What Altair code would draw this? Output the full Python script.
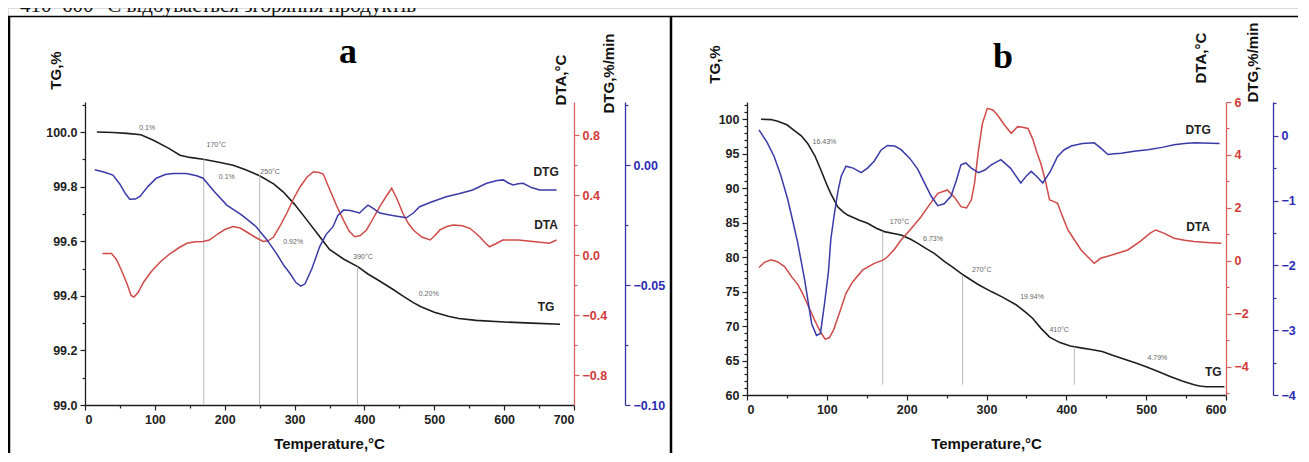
import altair as alt
import pandas as pd

# ---------------- text ----------------
doc_text = "410–600 °C відбувається згоряння продуктів"

# ---------------- panel a data ----------------
a_tg_T = [17, 40, 60, 80, 98, 120, 136, 150, 169, 190, 212, 230, 250, 270, 284, 300, 317, 335,
          350, 370, 391, 405, 420, 440, 457, 470, 481, 500, 520, 535, 560, 600, 640, 680]
a_tg = [100.0, 99.998, 99.995, 99.99, 99.97, 99.94, 99.915, 99.907, 99.90, 99.89, 99.878, 99.862,
        99.84, 99.81, 99.78, 99.735, 99.68, 99.62, 99.57, 99.535, 99.506, 99.48, 99.457, 99.425,
        99.396, 99.375, 99.36, 99.34, 99.325, 99.317, 99.31, 99.304, 99.30, 99.296]

a_dta_T = [25, 38, 45, 52, 60, 66, 70, 76, 84, 95, 108, 122, 135, 146, 158, 169, 178, 190, 200,
           212, 222, 231, 243, 255, 262, 270, 280, 289, 298, 308, 318, 327, 335, 341, 350, 360,
           370, 378, 386, 394, 403, 412, 422, 431, 439, 447, 455, 463, 470, 482, 494, 501, 508,
           518, 527, 540, 551, 558, 565, 572, 579, 588, 598, 620, 641, 665, 675]
a_dta = [0.01, 0.01, -0.03, -0.1, -0.19, -0.27, -0.28, -0.25, -0.18, -0.11, -0.045, 0.01, 0.05,
         0.078, 0.088, 0.09, 0.1, 0.14, 0.17, 0.19, 0.18, 0.155, 0.12, 0.09, 0.095, 0.12, 0.2,
         0.28, 0.37, 0.455, 0.52, 0.555, 0.55, 0.54, 0.44, 0.33, 0.233, 0.16, 0.122, 0.13, 0.167,
         0.24, 0.322, 0.39, 0.445, 0.37, 0.278, 0.21, 0.167, 0.12, 0.1, 0.13, 0.167, 0.19, 0.2,
         0.195, 0.178, 0.15, 0.122, 0.085, 0.055, 0.075, 0.1, 0.1, 0.09, 0.078, 0.1]

a_dtg_T = [14, 28, 40, 50, 58, 64, 72, 79, 90, 102, 115, 126, 145, 160, 169, 185, 203, 225, 245,
           260, 274, 285, 293, 302, 309, 315, 325, 336, 345, 355, 362, 370, 380, 393, 400, 405,
           412, 422, 440, 460, 470, 479, 495, 517, 535, 555, 575, 590, 599, 606, 613, 620, 627,
           640, 651, 675]
a_dtg = [-0.002, -0.003, -0.0042, -0.008, -0.012, -0.0143, -0.0142, -0.013, -0.009, -0.0055,
         -0.004, -0.0035, -0.0035, -0.0045, -0.0055, -0.011, -0.0167, -0.021, -0.0257, -0.031,
         -0.0368, -0.042, -0.045, -0.049, -0.0505, -0.0495, -0.043, -0.034, -0.029, -0.0257,
         -0.021, -0.0188, -0.019, -0.020, -0.018, -0.0167, -0.018, -0.020, -0.021, -0.022, -0.02,
         -0.0174, -0.0155, -0.0132, -0.012, -0.0104, -0.0076, -0.0065, -0.0062, -0.0075, -0.0083,
         -0.0078, -0.0076, -0.0095, -0.0104, -0.0104]

a_mark_T = [170, 250, 390]
a_mark_top = [99.90, 99.845, 99.507]
a_ann_text = ["0.1%", "170°C", "250°C", "0.1%", "0.92%", "390°C", "0.20%"]
a_ann_T = [89, 188, 265, 203, 298, 398, 492]
a_ann_v = [100.014, 99.951, 99.853, 99.835, 99.597, 99.542, 99.408]
a_lab_text = ["DTG", "DTA", "TG"]
a_lab_T = [660, 660, 660]
a_lab_v = [99.853, 99.66, 99.358]

# ---------------- panel b data ----------------
b_tg_T = [17.5, 30, 38.5, 50, 59, 68, 76, 85, 92.7, 100, 105, 113.6, 120, 126, 140, 151, 162,
          172, 185, 193, 205, 214, 225, 235, 248, 258, 271, 290, 306, 320, 337, 350, 358, 368,
          379, 392, 405, 420, 431, 445, 457, 470, 488, 500, 515, 530, 546, 560, 567, 575, 598]
b_tg = [100, 99.95, 99.7, 99.2, 98.4, 97.6, 96.5, 94.7, 92.6, 90.5, 89.2, 87.3, 86.6, 86.1, 85.4,
        84.9, 84.2, 83.7, 83.4, 83.2, 82.6, 82.0, 81.2, 80.5, 79.3, 78.5, 77.4, 76.0, 75.0, 74.2,
        73.1, 71.9, 71.1, 69.7, 68.4, 67.6, 67.1, 66.8, 66.6, 66.3, 65.8, 65.3, 64.6, 64.1, 63.4,
        62.7, 62.0, 61.5, 61.3, 61.2, 61.2]

b_dta_T = [15, 22, 30, 38, 47, 56, 64, 70, 77, 85, 93, 98, 103, 108.5, 116, 124, 132, 145,
           159.5, 171, 176, 185, 193, 205, 218, 228, 239, 251, 260, 268, 275, 281, 285, 290, 295,
           301, 308, 314, 322, 331, 339, 345, 352, 358, 363, 368, 374, 379, 384, 389, 395, 402,
           410, 418.5, 427, 435, 443, 460, 477, 493, 505, 512, 522, 535, 548, 560, 580, 594]
b_dta = [-0.25, -0.05, 0.04, -0.03, -0.21, -0.6, -0.9, -1.25, -1.72, -2.25, -2.73, -2.95, -2.9,
         -2.6, -1.95, -1.22, -0.8, -0.34, -0.09, 0.04, 0.16, 0.45, 0.79, 1.2, 1.67, 2.1, 2.55,
         2.68, 2.4, 2.05, 2.0, 2.3, 2.93, 4.2, 5.2, 5.76, 5.7, 5.5, 5.15, 4.82, 5.07, 5.05, 5.0,
         4.6, 4.1, 3.69, 3.0, 2.3, 2.25, 2.18, 1.7, 1.17, 0.8, 0.415, 0.15, -0.09, 0.1, 0.25,
         0.415, 0.75, 1.05, 1.17, 1.05, 0.86, 0.78, 0.73, 0.69, 0.67]

b_dtg_T = [15, 25, 34, 42, 51, 58, 63.5, 72, 81, 87, 92, 97, 102, 105, 109, 114, 118, 124, 133,
           143, 151, 159.5, 168, 176, 185, 193, 204, 214, 222, 230.6, 239, 247, 255.6, 262, 268,
           274, 281, 290, 298, 306, 318, 330, 343, 350, 356, 363, 370.5, 380, 389, 397, 406, 420,
           435, 444, 452, 460, 468.7, 485, 502, 520, 535, 548, 560.5, 592]
b_dtg = [0.09, -0.1, -0.32, -0.6, -0.98, -1.35, -1.65, -2.21, -2.9, -3.08, -3.05, -2.6, -2.1,
         -1.6, -1.24, -0.85, -0.625, -0.47, -0.5, -0.57, -0.5, -0.39, -0.22, -0.15, -0.16, -0.215,
         -0.35, -0.52, -0.72, -0.93, -1.08, -1.05, -0.93, -0.7, -0.45, -0.42, -0.5, -0.57, -0.53,
         -0.45, -0.37, -0.5, -0.73, -0.62, -0.55, -0.63, -0.73, -0.55, -0.32, -0.22, -0.16, -0.12,
         -0.11, -0.2, -0.29, -0.28, -0.27, -0.24, -0.215, -0.18, -0.14, -0.12, -0.11, -0.12]

b_mark_T = [170, 270, 410]
b_mark_top = [83.75, 77.4, 67.0]
b_ann_text = ["16.43%", "170°C", "6.73%", "270°C", "19.94%", "410°C", "4.79%"]
b_ann_T = [97, 191, 233, 294, 357, 391, 514]
b_ann_v = [96.7, 85.1, 82.7, 78.1, 74.25, 69.4, 65.4]
b_lab_text = ["DTG", "DTA", "TG"]
b_lab_T = [565, 565, 584]
b_lab_v = [98.4, 84.4, 63.4]

# ticks
a_x_ticks = [0, 50, 100, 150, 200, 250, 300, 350, 400, 450, 500, 550, 600, 650, 700]
a_tg_ticks = [99.0, 99.1, 99.2, 99.3, 99.4, 99.5, 99.6, 99.7, 99.8, 99.9, 100.0, 100.1]
a_dta_ticks = [-0.8, -0.6, -0.4, -0.2, 0.0, 0.2, 0.4, 0.6, 0.8]
a_dtg_ticks = [-0.1, -0.075, -0.05, -0.025, 0.0, 0.025]
b_x_ticks = [0, 50, 100, 150, 200, 250, 300, 350, 400, 450, 500, 550, 600]
b_tg_ticks = list(range(60, 103))
b_dta_ticks = [-5, -4, -3, -2, -1, 0, 1, 2, 3, 4, 5, 6]
b_dtg_ticks = [-4, -3.5, -3, -2.5, -2, -1.5, -1, -0.5, 0, 0.5]

# ---------------- layout / style ----------------
W, H = 1290, 445
BLACK = "#1e1e1e"
RED = "#cf4a48"
BLUE = "#3a3aa8"
RED_AX = "#d9625f"
BLUE_AX = "#34349c"
FONT = "Liberation Sans"


def is_major(step):
    return f"abs(datum.value/{step} - round(datum.value/{step})) < 0.0001"


def make_axis(orient, offset, values, step, fmt, color, label_color, title, **kw):
    args = dict(
        orient=orient, offset=offset, values=values, grid=False,
        labelExpr=f"{is_major(step)} ? format(datum.value, '{fmt}') : ''",
        tickSize={"condition": {"test": is_major(step), "value": 5}, "value": 3},
        domainColor=color, tickColor=color, labelColor=label_color,
        labelFont=FONT, labelFontSize=12.5, labelFontWeight="bold", labelPadding=3,
        domainWidth=1.3, tickWidth=1.2, labelOverlap=False,
        title=title, titleFont=FONT, titleFontSize=15, titleFontWeight="bold",
        titleColor="#111",
    )
    args.update(kw)
    return alt.Axis(**args)


def panel(tgT, tg, dtaT, dta, dtgT, dtg, markT, markTop, markBottom, annT, annV, annText,
          labT, labV, labText, xr, yr, xdom, tgdom, dtadom, dtgdom,
          xaxis, tgaxis, dtaaxis, dtgaxis):
    xs = alt.Scale(domain=xdom, range=xr, nice=False, zero=False)
    tgs = alt.Scale(domain=tgdom, range=yr, nice=False, zero=False)
    dtas = alt.Scale(domain=dtadom, range=yr, nice=False, zero=False)
    dtgs = alt.Scale(domain=dtgdom, range=yr, nice=False, zero=False)

    tg_df = pd.DataFrame({"T": tgT, "TG": tg})
    dta_df = pd.DataFrame({"T": dtaT, "DTA": dta})
    dtg_df = pd.DataFrame({"T": dtgT, "DTG": dtg})
    mk_df = pd.DataFrame({"T": markT, "TG": markTop, "bot": [markBottom] * len(markT)})
    ann_df = pd.DataFrame({"T": annT, "TG": annV, "t": annText})
    lab_df = pd.DataFrame({"T": labT, "TG": labV, "t": labText})

    X = alt.X("T:Q", scale=xs, axis=xaxis)
    Y = alt.Y("TG:Q", scale=tgs, axis=tgaxis)

    tg_line = alt.Chart(tg_df).mark_line(color=BLACK, strokeWidth=1.6).encode(x=X, y=Y)
    rules = alt.Chart(mk_df).mark_rule(color="#b8b8b8", strokeWidth=1).encode(
        x=X, y=Y, y2="bot:Q")
    ann = alt.Chart(ann_df).mark_text(fontSize=7, color="#666", font=FONT).encode(
        x=X, y=Y, text="t:N")
    labs = alt.Chart(lab_df).mark_text(fontSize=12, fontWeight="bold", color="#222",
                                       font=FONT).encode(x=X, y=Y, text="t:N")
    tg_group = alt.layer(tg_line, rules, ann, labs)

    dta_line = alt.Chart(dta_df).mark_line(color=RED, strokeWidth=1.5).encode(
        x=X, y=alt.Y("DTA:Q", scale=dtas, axis=dtaaxis))
    dtg_line = alt.Chart(dtg_df).mark_line(color=BLUE, strokeWidth=1.5).encode(
        x=X, y=alt.Y("DTG:Q", scale=dtgs, axis=dtgaxis))
    return alt.layer(tg_group, dta_line, dtg_line).resolve_scale(y="independent").resolve_axis(
        y="independent")


xaxis_a = make_axis("bottom", 397 - H, a_x_ticks, 100, "d", BLACK, "#222",
                    "Temperature,°C", titleX=321, titleY=38, titleAlign="center",
                    titleBaseline="middle")
tgaxis_a = make_axis("left", -77, a_tg_ticks, 0.2, ".1f", BLACK, "#222",
                     "TG,%", titleX=-30, titleY=62, titleAngle=270, titleAlign="center",
                     titleBaseline="middle")
dtaaxis_a = make_axis("right", 566 - W, a_dta_ticks, 0.4, ".1f", RED_AX, "#d23a3a",
                      "DTA,°C", titleX=-14, titleY=97, titleAngle=270, titleAlign="left",
                      titleBaseline="middle")
dtgaxis_a = make_axis("right", 617 - W, a_dtg_ticks, 0.05, ".2f", BLUE_AX, "#2b2bb5",
                      "DTG,%/min", titleX=-17, titleY=105, titleAngle=270,
                      titleAlign="left", titleBaseline="middle")

xaxis_b = make_axis("bottom", 387 - H, b_x_ticks, 100, "d", BLACK, "#222",
                    "Temperature,°C", titleX=978, titleY=48, titleAlign="center",
                    titleBaseline="middle")
tgaxis_b = make_axis("left", -739, b_tg_ticks, 5, "d", BLACK, "#222",
                     "TG,%", titleX=-33, titleY=56, titleAngle=270, titleAlign="center",
                     titleBaseline="middle")
dtaaxis_b = make_axis("right", 1218 - W, b_dta_ticks, 2, "d", RED_AX, "#d23a3a",
                      "DTA,°C", titleX=-26, titleY=75, titleAngle=270, titleAlign="left",
                      titleBaseline="middle")
dtgaxis_b = make_axis("right", 1265 - W, b_dtg_ticks, 1, "d", BLUE_AX, "#2b2bb5",
                      "DTG,%/min", titleX=-21, titleY=94, titleAngle=270,
                      titleAlign="left", titleBaseline="middle")

pa = panel(a_tg_T, a_tg, a_dta_T, a_dta, a_dtg_T, a_dtg, a_mark_T, a_mark_top, 99.0,
           a_ann_T, a_ann_v, a_ann_text, a_lab_T, a_lab_v, a_lab_text,
           [77, 566], [397, 94], [0, 700], [99.0, 100.11], [-1.0, 1.02], [-0.1, 0.02625],
           xaxis_a, tgaxis_a, dtaaxis_a, dtgaxis_a)
pb = panel(b_tg_T, b_tg, b_dta_T, b_dta, b_dtg_T, b_dtg, b_mark_T, b_mark_top, 61.5,
           b_ann_T, b_ann_v, b_ann_text, b_lab_T, b_lab_v, b_lab_text,
           [739, 1218], [387, 94], [0, 600], [60, 102.5], [-5.06, 6], [-4, 0.52],
           xaxis_b, tgaxis_b, dtaaxis_b, dtgaxis_b)

# ---------------- decorations ----------------
doc = alt.Chart(pd.DataFrame({"t": [doc_text]})).mark_text(
    font="Liberation Serif", fontSize=21, align="left", baseline="alphabetic",
    color="#111").encode(x=alt.value(12), y=alt.value(4), text="t:N")
lab_a = alt.Chart(pd.DataFrame({"t": ["a"]})).mark_text(
    font="Liberation Serif", fontSize=36, fontWeight="bold", align="center",
    baseline="alphabetic", color="#000").encode(x=alt.value(340), y=alt.value(55), text="t:N")
lab_b = alt.Chart(pd.DataFrame({"t": ["b"]})).mark_text(
    font="Liberation Serif", fontSize=36, fontWeight="bold", align="center",
    baseline="alphabetic", color="#000").encode(x=alt.value(995), y=alt.value(60), text="t:N")

bd = pd.DataFrame({"k": [0]})
border_left = alt.Chart(bd).mark_rule(color="#000", strokeWidth=2.5).encode(
    x=alt.value(1), y=alt.value(8), y2=alt.value(H))
border_mid = alt.Chart(bd).mark_rule(color="#000", strokeWidth=2.5).encode(
    x=alt.value(663), y=alt.value(8), y2=alt.value(H))
border_top = alt.Chart(bd).mark_rule(color="#000", strokeWidth=1.5).encode(
    x=alt.value(0), x2=alt.value(W), y=alt.value(8.5))

chart = alt.layer(
    border_left, border_mid, border_top, doc, lab_a, lab_b, pa, pb
).resolve_scale(x="independent", y="independent").resolve_axis(
    x="independent", y="independent"
).properties(
    width=W, height=H, padding=0, autosize=alt.AutoSizeParams(type="none")
).configure_view(stroke=None).configure(background="white")

chart.save("out.html", embed_options={"renderer": "svg", "actions": False})
